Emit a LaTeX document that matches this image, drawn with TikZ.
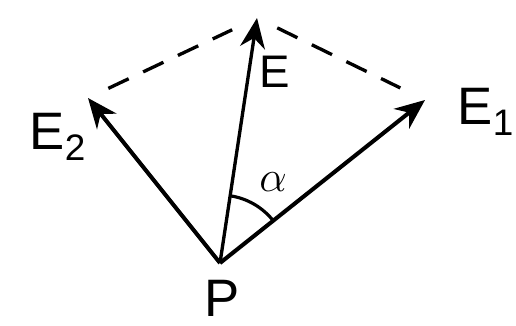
\documentclass[tikz,border=0pt]{standalone}
\usepackage{fontspec}
\setmainfont{Liberation Sans}
\usepackage{tikz}
\usetikzlibrary{arrows.meta,angles}

\begin{document}
\begin{tikzpicture}[x=0.02cm,y=0.02cm,>={Stealth[length=6mm,width=5mm]},
  vec/.style={->,line width=2.3pt},
  comp/.style={dashed,line width=1.9pt,dash pattern=on 4.5mm off 3.2mm,shorten <=4.5mm,shorten >=5.5mm},
  lbl/.style={font=\fontsize{30}{30}\selectfont,inner sep=0pt}]
\useasboundingbox (0,0) rectangle (516,325);
\coordinate (P) at (220,62);
\coordinate (E) at (257,307);
\coordinate (E1) at (425,225);
\coordinate (E2) at (88,227);
\draw[vec] (P)--(E2);
\draw[vec] (P)--(E1);
\draw[vec,line width=1.9pt] (P)--(E);
\draw[comp] (E2)--(E);
\draw[comp] (E)--(E1);
\pic[draw,line width=1.8pt,angle radius=1.36cm] {angle=E1--P--E};
\node[lbl] (e2lbl) at (58,188) {E\textsubscript{2}};
\node[lbl,font=\fontsize{26}{26}\selectfont] (elbl) at (275,253) {E};
\node[lbl] (e1lbl) at (486,213) {E\textsubscript{1}};
\node[lbl,font=\fontsize{24}{24}\selectfont] (alpha) at (273,143) {$\alpha$};
\node[lbl] (plbl) at (222,27) {P};
\end{tikzpicture}
\end{document}
